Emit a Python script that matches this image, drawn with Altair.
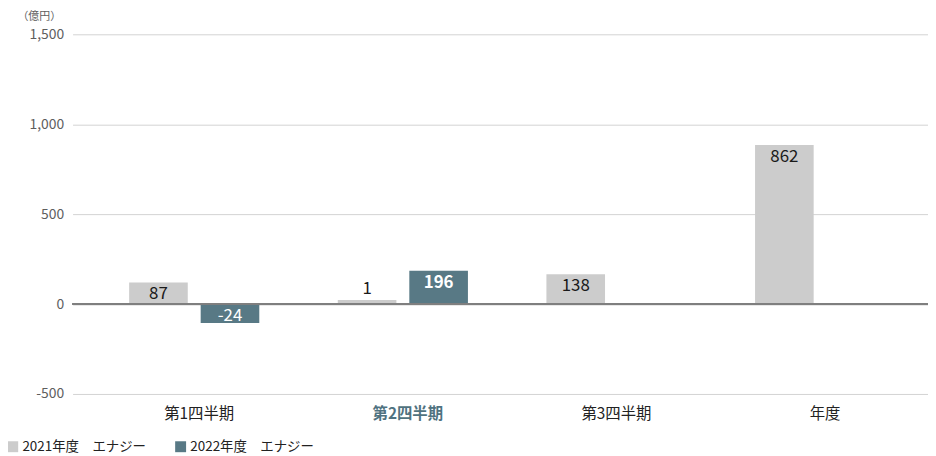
import altair as alt
import pandas as pd

categories = ["第1四半期", "第2四半期", "第3四半期", "年度"]
series_names = ["2021年度　エナジー", "2022年度　エナジー"]
labels_2021 = [87, 1, 138, 862]
labels_2022 = [-24, 196, None, None]
# bar heights as drawn in the reference
heights_2021 = [120, 22, 165, 885]
heights_2022 = [-105, 185, 0, 0]
y_ticks = [-500, 0, 500, 1000, 1500]

rows = []
for i, c in enumerate(categories):
    rows.append({"cat": c, "series": series_names[0], "label": labels_2021[i], "h": heights_2021[i]})
    rows.append({"cat": c, "series": series_names[1], "label": labels_2022[i], "h": heights_2022[i]})
df = pd.DataFrame(rows)

FONT = "Noto Sans CJK JP"
HL = "#4f7280"

x_enc = alt.X(
    "cat:N", sort=categories, title=None,
    scale=alt.Scale(paddingInner=0, paddingOuter=0.05, align=0.83),
    axis=alt.Axis(
        domain=False, ticks=False, tickSize=0, labelPadding=13, labelAngle=0,
        labelFontSize=15.5, labelOffset=5,
        labelColor=alt.ExprRef("datum.value == '第2四半期' ? '%s' : '#222222'" % HL),
        labelFontWeight=alt.ExprRef("datum.value == '第2四半期' ? 'bold' : 'normal'"),
    ),
)
xo_enc = alt.XOffset("series:N", sort=series_names,
                     scale=alt.Scale(paddingInner=0.1806, paddingOuter=0.5486))
y_enc = alt.Y(
    "h:Q",
    scale=alt.Scale(domain=[-500, 1500], nice=False),
    axis=alt.Axis(
        values=y_ticks,
        labelExpr="datum.value < 0 ? '-' + format(-datum.value, ',') : format(datum.value, ',')",
        domain=False, ticks=False, tickSize=0,
        labelPadding=9, labelFontSize=14, labelColor="#5e5e5e",
        gridColor="#d3d3d3", gridWidth=1,
        title="（億円）", titleAngle=0, titleX=-56, titleY=-18,
        titleAlign="left", titleBaseline="middle", titleFontWeight="normal",
        titleFontSize=11, titleColor="#5e5e5e",
    ),
)

base = alt.Chart(df).transform_calculate(txt="datum.label == null ? '' : '' + datum.label")

bars = alt.Chart(df).mark_bar().encode(
    x=x_enc, xOffset=xo_enc, y=y_enc,
    color=alt.Color(
        "series:N", sort=series_names,
        scale=alt.Scale(domain=series_names, range=["#cccccc", "#587985"]),
        legend=alt.Legend(
            title=None, orient="none", direction="horizontal",
            legendX=-67, legendY=408, symbolType="square", symbolSize=121,
            symbolStrokeWidth=0, labelFontSize=13.5, labelColor="#222222",
            labelOffset=3, columnPadding=28, padding=0,
        ),
    ),
)

zero = alt.Chart(df).mark_rule(color="#7f7f7f", strokeWidth=1.6).encode(y=alt.datum(0))

t21_in = base.transform_filter(
    "datum.series == '%s' && datum.h >= 50" % series_names[0]
).mark_text(baseline="middle", dy=12, fontSize=17, color="#1a1a1a").encode(
    x=x_enc, xOffset=xo_enc, y="h:Q", text="txt:N")

t21_out = base.transform_filter(
    "datum.series == '%s' && datum.h < 50" % series_names[0]
).mark_text(baseline="middle", dy=-11, fontSize=17, color="#1a1a1a").encode(
    x=x_enc, xOffset=xo_enc, y="h:Q", text="txt:N")

t22_pos = base.transform_filter(
    "datum.series == '%s' && datum.label != null && datum.h > 0" % series_names[1]
).mark_text(baseline="middle", dy=12, fontSize=17, color="white", fontWeight="bold").encode(
    x=x_enc, xOffset=xo_enc, y="h:Q", text="txt:N")

t22_neg = base.transform_filter(
    "datum.series == '%s' && datum.label != null && datum.h < 0" % series_names[1]
).mark_text(baseline="middle", dy=-7, fontSize=17, color="white").encode(
    x=x_enc, xOffset=xo_enc, y="h:Q", text="txt:N")

chart = alt.layer(bars, zero, t21_in, t21_out, t22_pos, t22_neg).properties(
    width=861, height=362,
    autosize=alt.AutoSizeParams(type="none"),
    padding={"left": 65, "top": 25, "right": 0, "bottom": 61},
).configure(font=FONT).configure_view(stroke=None)

chart.save("out.html", embed_options={"renderer": "svg", "actions": False})
